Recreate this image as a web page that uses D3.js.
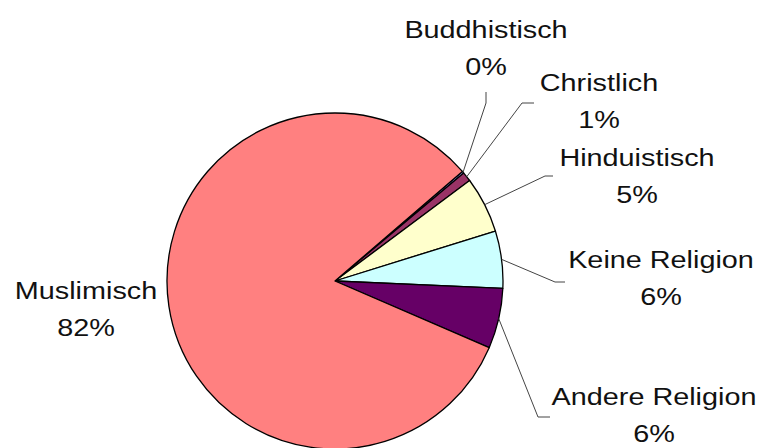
<!DOCTYPE html>
<html>
<head>
<meta charset="utf-8">
<script src="https://cdn.jsdelivr.net/npm/d3@7"></script>
<style>
  html, body { margin: 0; padding: 0; background: #fff; }
  svg { display: block; }
</style>
</head>
<body>
<script>
// ---- data ----
const categories = ["Buddhistisch", "Christlich", "Hinduistisch", "Keine Religion", "Andere Religion", "Muslimisch"];
const shares = [0.2, 0.9, 5.4, 5.5, 5.8, 82.2];
const colors = ["#9999FF", "#993366", "#FFFFCC", "#CCFFFF", "#660066", "#FF8080"];

// ---- layout (label anchors: centre x, first baseline y; leader elbow and end) ----
const labelLayout = [
  { x: 486, y: 38,  elbow: [486, 103], end: [486, 92] },
  { x: 599, y: 91,  elbow: [522, 103], end: [534, 103] },
  { x: 637, y: 166, elbow: [545, 176], end: [553, 176] },
  { x: 661, y: 268, elbow: [555, 282], end: [565, 282] },
  { x: 654, y: 405, elbow: [538, 417], end: [550, 417] },
  { x: 86,  y: 299, elbow: null, end: null }
];

const W = 760, H = 448;
const cx = 335, cy = 281, R = 168;
const start = 49.3 * Math.PI / 180;

const svg = d3.select("body").append("svg").attr("width", W).attr("height", H);

const pie = d3.pie().sort(null).value(d => d.v).startAngle(start).endAngle(start + 2 * Math.PI);
const data = categories.map((c, i) => ({ c, v: shares[i], color: colors[i], lab: labelLayout[i] }));
const arcs = pie(data);
const arc = d3.arc().innerRadius(0).outerRadius(R);

const g = svg.append("g").attr("transform", `translate(${cx},${cy})`);
g.selectAll("path.slice").data(arcs).enter().append("path")
  .attr("class", "slice")
  .attr("d", arc)
  .attr("fill", d => d.data.color)
  .attr("stroke", "#000")
  .attr("stroke-width", 1.3)
  .attr("stroke-linejoin", "round");

// leader lines
arcs.forEach(d => {
  const L = d.data.lab;
  if (!L.elbow) return;
  const mid = (d.startAngle + d.endAngle) / 2;
  const sx = cx + R * Math.sin(mid), sy = cy - R * Math.cos(mid);
  svg.append("polyline")
    .attr("points", [[sx, sy], L.elbow, L.end].map(p => p.join(",")).join(" "))
    .attr("fill", "none")
    .attr("stroke", "#444")
    .attr("stroke-width", 1);
});

// labels
arcs.forEach(d => {
  const L = d.data.lab;
  const t = svg.append("g").attr("transform", `translate(${L.x},${L.y}) scale(1.2,1)`);
  t.append("text")
    .attr("text-anchor", "middle")
    .attr("font-family", "'Liberation Sans', Arial, sans-serif")
    .attr("font-size", 24)
    .attr("fill", "#111")
    .text(d.data.c);
  t.append("text")
    .attr("y", 37)
    .attr("text-anchor", "middle")
    .attr("font-family", "'Liberation Sans', Arial, sans-serif")
    .attr("font-size", 24)
    .attr("fill", "#111")
    .text(Math.round(d.data.v) + "%");
});
</script>
</body>
</html>
